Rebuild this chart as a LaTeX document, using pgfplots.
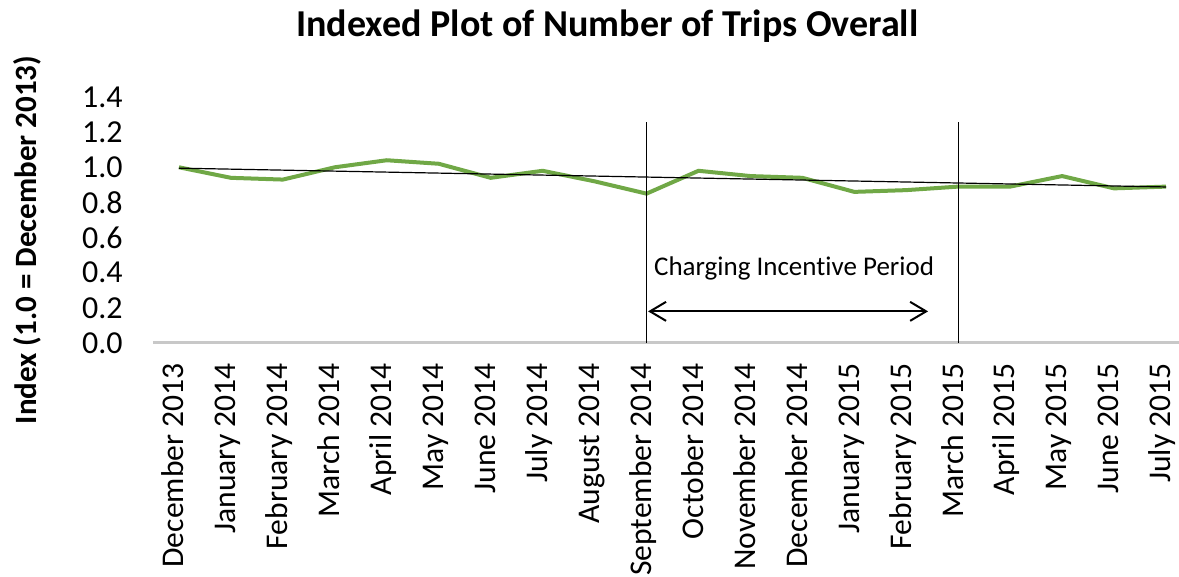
\documentclass[border=0pt]{standalone}
\usepackage{fontspec}
\setmainfont{Carlito}[Ligatures=NoCommon]
\usepackage{pgfplots}
\pgfplotsset{compat=1.18}
\usetikzlibrary{arrows.meta}
\definecolor{linegreen}{RGB}{112,168,70}
\definecolor{axisgray}{RGB}{200,200,200}
\pgfplotstableread{
x y
0 1.00
1 0.94
2 0.93
3 1.00
4 1.04
5 1.02
6 0.94
7 0.98
8 0.92
9 0.85
10 0.98
11 0.95
12 0.94
13 0.86
14 0.87
15 0.89
16 0.89
17 0.95
18 0.88
19 0.89
}\trips
\begin{document}
\begin{tikzpicture}
\begin{axis}[
  at={(76.5pt,117pt)}, anchor=south west,
  width=513pt, height=123pt, scale only axis,
  xmin=-0.5, xmax=19.25, ymin=0, ymax=1.4,
  axis x line*=bottom, axis y line*=left,
  x axis line style={draw=axisgray, line width=1.5pt},
  y axis line style={draw=none},
  major tick length=0pt,
  ytick={0,0.2,0.4,0.6,0.8,1.0,1.2,1.4},
  yticklabel style={font=\fontsize{16}{18}\selectfont, anchor=east, inner xsep=15pt, inner ysep=0pt,
    /pgf/number format/.cd, fixed, fixed zerofill, precision=1, assume math mode=true},
  xtick={0,...,19},
  xticklabels={December 2013,January 2014,February 2014,March 2014,April 2014,May 2014,June 2014,July 2014,August 2014,September 2014,October 2014,November 2014,December 2014,January 2015,February 2015,March 2015,April 2015,May 2015,June 2015,July 2015},
  xticklabel style={font=\fontsize{15.8}{18}\selectfont, rotate=90, anchor=east, inner xsep=10pt, inner ysep=0pt, text height=0.7em, text depth=0.22em},
  clip=false,
]
\addplot[linegreen, line width=2pt, no markers] table[x=x,y=y]{\trips};
\addplot[black, line width=0.6pt, no markers] coordinates {(0,0.995) (19,0.888)};
\draw[black, line width=0.5pt] (axis cs:9,0) -- (axis cs:9,1.26);
\draw[black, line width=0.5pt] (axis cs:15,0) -- (axis cs:15,1.26);
\draw[black, line width=1pt, {Straight Barb[length=8pt,width=9.5pt]}-{Straight Barb[length=8pt,width=9.5pt]}] (axis cs:9.03,0.18) -- (axis cs:14.42,0.18);
\node[font=\fontsize{13.5}{15}\selectfont] at (axis cs:11.84,0.427) {Charging Incentive Period};
\end{axis}
\node[anchor=base, font=\fontsize{19}{22}\selectfont\bfseries] at (303.75pt,270pt) {Indexed Plot of Number of Trips Overall};
\node[rotate=90, font=\fontsize{15.5}{17}\selectfont\bfseries] at (13.5pt,168.5pt) {Index (1.0 = December 2013)};
\pgfresetboundingbox
\path[use as bounding box] (0,0) rectangle (589.5pt,288.5pt);
\end{tikzpicture}
\end{document}
